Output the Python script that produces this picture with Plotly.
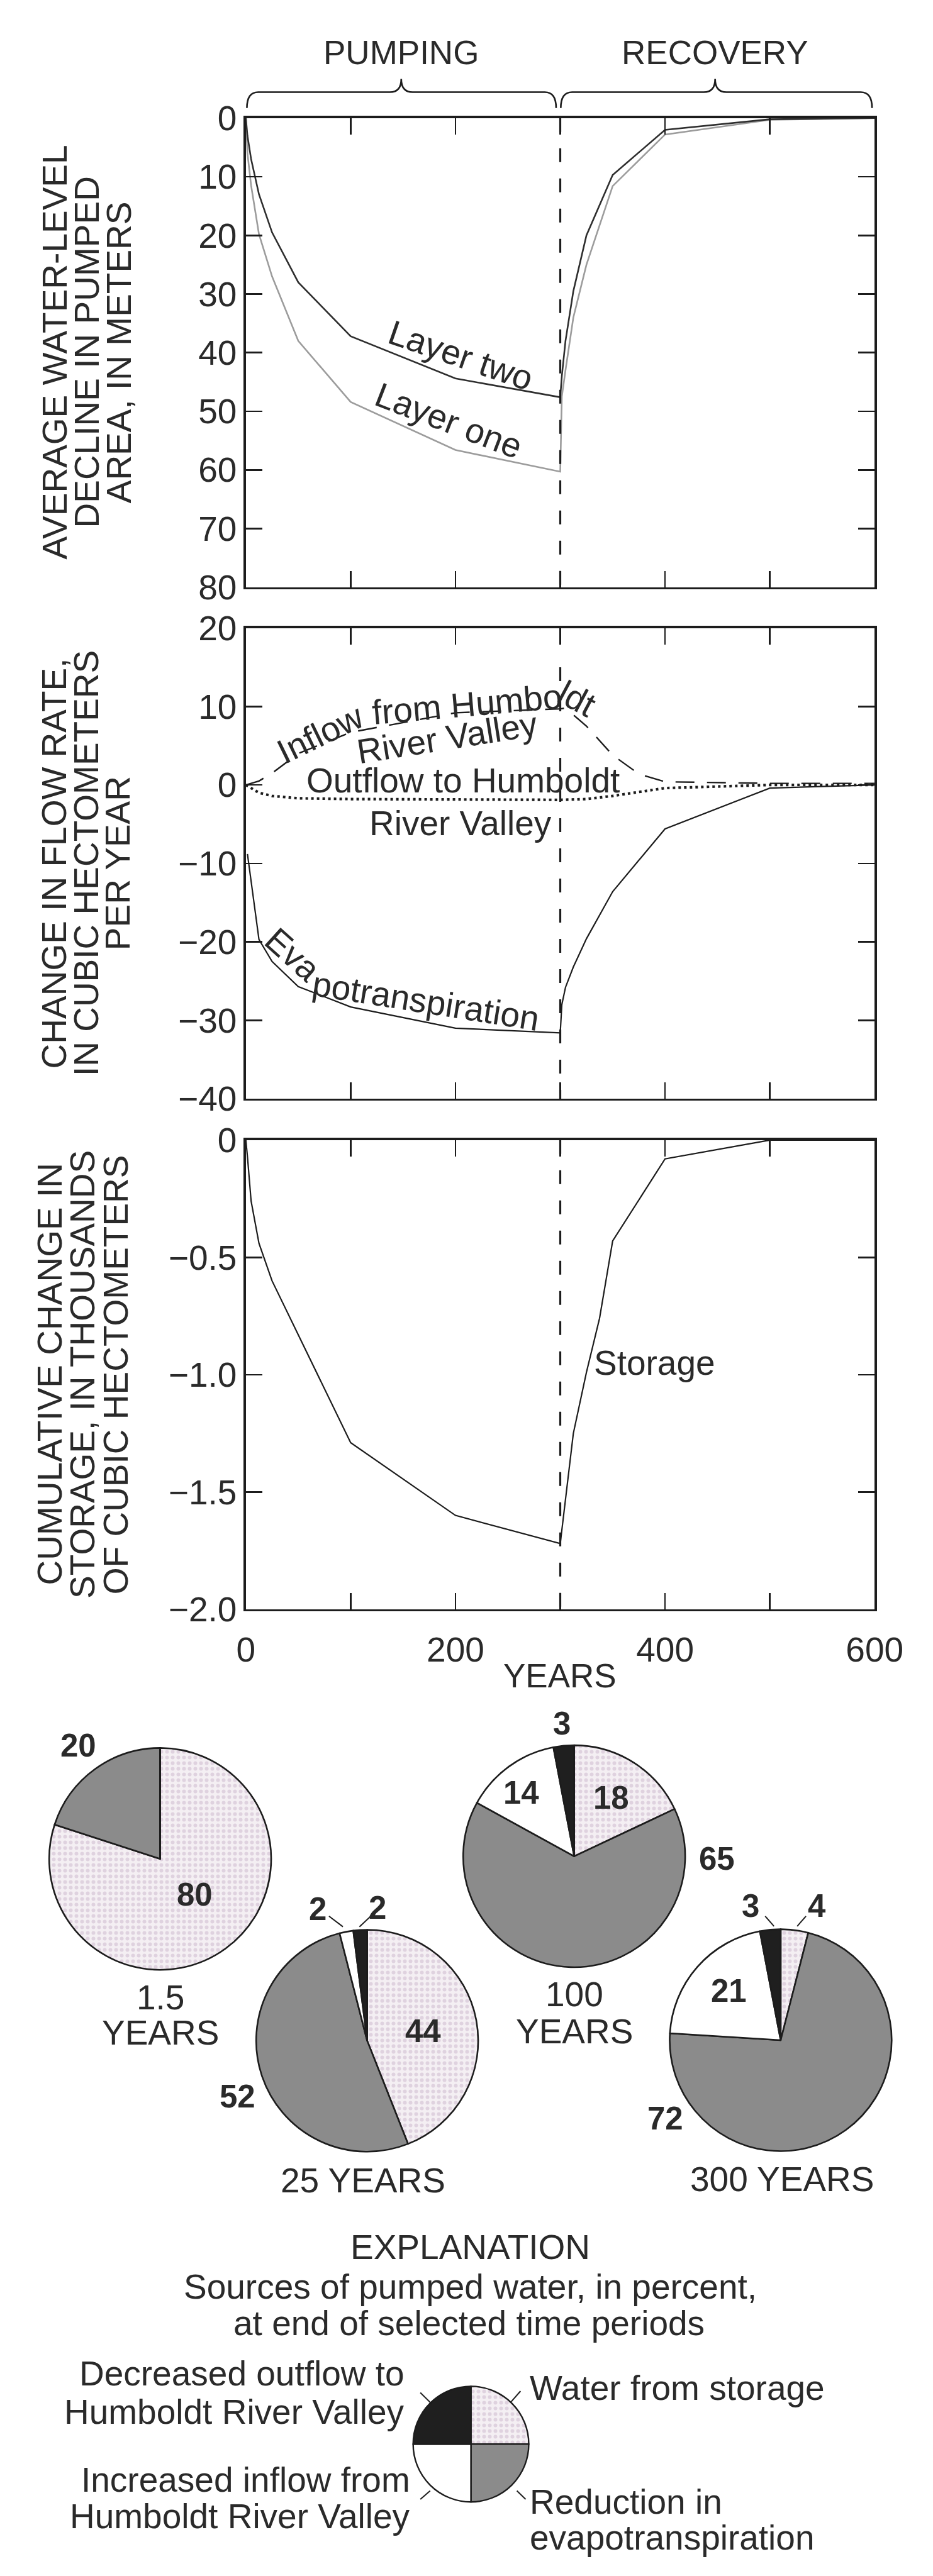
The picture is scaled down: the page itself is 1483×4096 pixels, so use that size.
import plotly.graph_objects as go

# ---------------- reference geometry helpers ----------------
W_REF, H_REF = 1733, 4786
W, H = 1483, 4096


def px(X):
    return X / W_REF


def py(Y):
    return 1 - Y / H_REF


# ---------------- data ----------------
PUMP_END = 300
X_TICKS = [0, 100, 200, 300, 400, 500, 600]
X_TICKTEXT = ["0", "", "200", "", "400", "", "600"]

# Panel 1: average water-level decline (m)
T_LAYER = [0, 1.5, 5, 12.5, 25, 50, 100, 200, 300, 301.5, 305, 312.5, 325, 350, 400, 500, 600]
LAYER_TWO = [0, 3, 7, 13, 19.5, 28, 37.2, 44.4, 47.6, 44, 38, 29.5, 20, 9.7, 2.0, 0.2, 0]
LAYER_ONE = [0, 6, 11.5, 19.8, 27, 38, 48.4, 56.6, 60.3, 47.5, 43, 34, 25, 11.6, 2.8, 0.3, 0]
Y1_TICKS = [0, 10, 20, 30, 40, 50, 60, 70, 80]

# Panel 2: change in flow rate (hm3/yr)
T_INFLOW = [0, 12.5, 25, 50, 100, 200, 300, 305, 325, 350, 375, 400, 500, 600]
INFLOW = [0, 0.5, 1.5, 4.0, 6.7, 9.2, 9.7, 9.8, 7.5, 3.8, 1.4, 0.4, 0.2, 0.2]
T_OUTFLOW = [0, 12.5, 25, 50, 100, 200, 300, 325, 350, 400, 500, 600]
OUTFLOW = [0, -1.0, -1.4, -1.7, -1.8, -1.85, -1.9, -1.8, -1.4, -0.4, 0, 0]
T_ET = [1.5, 12.5, 25, 50, 100, 200, 300, 301.5, 305, 312.5, 325, 350, 400, 500, 600]
ET = [-8.8, -19.7, -22.5, -25.7, -28.3, -31.0, -31.6, -28.0, -25.8, -23.2, -19.6, -13.6, -5.6, -0.4, 0]
Y2_TICKS = [20, 10, 0, -10, -20, -30, -40]

# Panel 3: cumulative change in storage (thousands of hm3)
T_STORAGE = [0, 1.5, 5, 12.5, 25, 100, 200, 300, 312.5, 325, 337.5, 350, 400, 500, 600]
STORAGE = [0, -0.07, -0.26, -0.44, -0.6, -1.29, -1.6, -1.72, -1.25, -0.99, -0.76, -0.43, -0.08, 0, 0]
Y3_TICKS = [0, -0.5, -1.0, -1.5, -2.0]
Y3_TICKTEXT = ["0", "\u22120.5", "\u22121.0", "\u22121.5", "\u22122.0"]

# Pie charts: sources of pumped water, percent
PIE_PERIODS = ["1.5", "25", "100", "300"]
STORAGE_PCT = [80, 44, 18, 4]
ET_PCT = [20, 52, 65, 72]
INFLOW_PCT = [0, 2, 14, 21]
OUTFLOW_PCT = [0, 2, 3, 3]
SOURCE_NAMES = ["Water from storage", "Reduction in evapotranspiration",
                "Increased inflow from Humboldt River Valley",
                "Decreased outflow to Humboldt River Valley"]
LEGEND_PCT = [25, 25, 25, 25]

# ---------------- styles ----------------
INK = "#1c1c1c"
TXT = "#2a2a2a"
LIGHT = "#9c9c9c"
GRAY = "#8b8b8b"
STIPPLE_BG = "#f4eff3"
STIPPLE_FG = "#c9b6cb"
FONT = "Liberation Sans, Arial, Helvetica, sans-serif"
FS = 55

fig = go.Figure()


def line_trace(x, y, ax, color, width, dash="solid"):
    fig.add_trace(go.Scatter(x=x, y=y, mode="lines", xaxis="x" + ax, yaxis="y" + ax,
                             line=dict(color=color, width=width, dash=dash),
                             hoverinfo="skip", showlegend=False))


line_trace(T_LAYER, LAYER_ONE, "", LIGHT, 2.6)
line_trace(T_LAYER, LAYER_TWO, "", "#2e2e2e", 2.6)
line_trace(T_INFLOW, INFLOW, "2", INK, 2.4, "30px,20px")
line_trace(T_OUTFLOW, OUTFLOW, "2", INK, 4.2, "4px,5px")
line_trace(T_ET, ET, "2", INK, 2.2)
line_trace(T_STORAGE, STORAGE, "3", INK, 2.2)

# ---------------- pies ----------------
PIE_R = 215
pie_pos = {"1.5": (292, 3470), "100": (1094, 3465), "25": (693, 3813), "300": (1494, 3812)}

slice_colors = [STIPPLE_BG, GRAY, "#ffffff", "#1f1f1f"]
slice_pattern = [".", "", "", ""]


def add_pie(values, cx, cy, r, lw):
    fig.add_trace(go.Pie(
        values=values, labels=SOURCE_NAMES, sort=False, direction="clockwise", rotation=0,
        textinfo="none", hoverinfo="skip", showlegend=False,
        domain=dict(x=[px(cx - r), px(cx + r)], y=[py(cy + r), py(cy - r)]),
        marker=dict(colors=slice_colors, line=dict(color=INK, width=lw),
                    pattern=dict(shape=slice_pattern, fgcolor=STIPPLE_FG, size=9,
                                 solidity=0.35, fillmode="overlay"))))


for i, p in enumerate(PIE_PERIODS):
    cx, cy = pie_pos[p]
    add_pie([STORAGE_PCT[i], ET_PCT[i], INFLOW_PCT[i], OUTFLOW_PCT[i]], cx, cy, PIE_R, 2.6)

add_pie(LEGEND_PCT, 894, 4574, 112, 2.4)

# ---------------- axes ----------------
XDOM = [px(458), px(1676)]
ax_common = dict(showline=True, mirror="ticks", linecolor=INK, linewidth=3.4,
                 ticks="inside", ticklen=26, tickwidth=2.6, tickcolor=INK,
                 showgrid=False, zeroline=False, fixedrange=True,
                 tickfont=dict(family=FONT, size=FS, color=TXT))

layout_axes = dict(
    xaxis=dict(ax_common, domain=XDOM, range=[0, 600], tickvals=X_TICKS, showticklabels=False, anchor="y"),
    xaxis2=dict(ax_common, domain=XDOM, range=[0, 600], tickvals=X_TICKS, showticklabels=False, anchor="y2"),
    xaxis3=dict(ax_common, domain=XDOM, range=[0, 600], tickvals=X_TICKS, ticktext=X_TICKTEXT,
                anchor="y3", ticklabelstandoff=14),
    yaxis=dict(ax_common, domain=[py(1071), py(186)], range=[80, 0], tickvals=Y1_TICKS, anchor="x",
               ticklabelstandoff=0),
    yaxis2=dict(ax_common, domain=[py(2036), py(1148)], range=[-40, 20], tickvals=Y2_TICKS, anchor="x2",
                ticklabelstandoff=0),
    yaxis3=dict(ax_common, domain=[py(2999), py(2114)], range=[-2.0, 0], tickvals=Y3_TICKS,
                ticktext=Y3_TICKTEXT, anchor="x3", ticklabelstandoff=0),
)

# ---------------- shapes ----------------
shapes = []
# end of pumping dashed line in each panel
for xr, yref, y0, y1 in [("x", "y", 0, 80), ("x2", "y2", 15, -40), ("x3", "y3", 0, -2.0)]:
    shapes.append(dict(type="line", xref=xr, yref=yref, x0=PUMP_END, x1=PUMP_END, y0=y0, y1=y1,
                       line=dict(color=INK, width=3.2, dash="22px,26px"), layer="above"))


def brace(x0, x1, tip, yh=137, yend=167, ytip=112, c=22):
    pts = (f"M {px(x0)},{py(yend)} Q {px(x0)},{py(yh)} {px(x0 + c)},{py(yh)} "
           f"L {px(tip - c)},{py(yh)} Q {px(tip)},{py(yh)} {px(tip)},{py(ytip)} "
           f"Q {px(tip)},{py(yh)} {px(tip + c)},{py(yh)} "
           f"L {px(x1 - c)},{py(yh)} Q {px(x1)},{py(yh)} {px(x1)},{py(yend)}")
    return dict(type="path", xref="paper", yref="paper", path=pts, line=dict(color=INK, width=2.6))


shapes.append(brace(460, 1059, 759))
shapes.append(brace(1068, 1671, 1367))

# leader lines (reference pixel positions)
LEADERS = [((619, 3578), (646, 3598)), ((700, 3578), (678, 3598)),
           ((1464, 3578), (1481, 3597)), ((1543, 3578), (1526, 3597)),
           ((796, 4477), (818, 4498)), ((990, 4474), (972, 4494)),
           ((815, 4662), (796, 4678)), ((983, 4662), (1000, 4678))]
for (a, b) in LEADERS:
    shapes.append(dict(type="line", xref="paper", yref="paper", x0=px(a[0]), y0=py(a[1]),
                       x1=px(b[0]), y1=py(b[1]), line=dict(color=INK, width=2)))

# ---------------- annotations ----------------
anns = []


def ann_px(text, X, Y, size=FS, angle=0, bold=False, xanchor="center"):
    if bold:
        text = "<b>" + text + "</b>"
    anns.append(dict(text=text, x=px(X), y=py(Y), xref="paper", yref="paper", showarrow=False,
                     xanchor=xanchor, yanchor="middle", textangle=angle,
                     font=dict(family=FONT, size=size, color=TXT)))


def ann_data(text, x, y, ax, size=FS, angle=0):
    anns.append(dict(text=text, x=x, y=y, xref="x" + ax, yref="y" + ax, showarrow=False,
                     xanchor="center", yanchor="middle", textangle=angle,
                     font=dict(family=FONT, size=size, color=TXT)))


# header
ann_px("PUMPING", 759, 62, size=53)
ann_px("RECOVERY", 1367, 62, size=53)

# axis titles (one annotation per line)
TITLE1 = ["AVERAGE WATER-LEVEL", "DECLINE IN PUMPED", "AREA, IN METERS"]
TITLE2 = ["CHANGE IN FLOW RATE,", "IN CUBIC HECTOMETERS", "PER YEAR"]
TITLE3 = ["CUMULATIVE CHANGE IN", "STORAGE, IN THOUSANDS", "OF CUBIC HECTOMETERS"]
for lines, xs, yc in [(TITLE1, [88, 150, 212], 628), (TITLE2, [86, 149, 210], 1592),
                      (TITLE3, [78, 142, 207], 2556)]:
    for t, X in zip(lines, xs):
        ann_px(t, X, yc, angle=-90)

ann_px("YEARS", 1066, 3125, size=53)

# curve labels
ann_data("Layer two", 205, 40.5, "", angle=19)
ann_data("Layer one", 194, 51.6, "", angle=21)
ann_data("Inflow", 71, 6.5, "2", angle=-26)
ann_data("from Humbo", 211, 10.3, "2", angle=-5)
ann_data("ldt", 316, 11.0, "2", angle=28)
ann_data("River Valley", 192, 6.0, "2", angle=-9)
ann_data("Outflow to Humboldt", 207, 0.6, "2")
ann_data("River Valley", 205, -4.9, "2")
ann_data("Eva", 45, -21.6, "2", angle=42)
ann_data("potranspiration", 172, -27.6, "2", angle=9)
ann_data("Storage", 390, -0.95, "3")

# pie values (bold)
PIE_LABEL_POS = {
    "1.5": [(359, 3537), (133, 3256), None, None],
    "25": [(801, 3795), (442, 3918), (597, 3565), (713, 3562)],
    "100": [(1166, 3355), (1370, 3470), (991, 3345), (1070, 3215)],
    "300": [(1564, 3559), (1271, 3960), (1394, 3719), (1436, 3559)],
}
for i, p in enumerate(PIE_PERIODS):
    vals = [STORAGE_PCT[i], ET_PCT[i], INFLOW_PCT[i], OUTFLOW_PCT[i]]
    for v, pos in zip(vals, PIE_LABEL_POS[p]):
        if pos is not None and v > 0:
            ann_px(str(v), pos[0], pos[1], size=51, bold=True)

# pie captions
ann_px("1.5", 293, 3731)
ann_px("YEARS", 293, 3798)
ann_px("100", 1094, 3725)
ann_px("YEARS", 1094, 3795)
ann_px("25 YEARS", 685, 4077)
ann_px("300 YEARS", 1497, 4074)

# explanation
ann_px("EXPLANATION", 893, 4202)
ann_px("Sources of pumped water, in percent,", 893, 4277)
ann_px("at end of selected time periods", 890, 4346)
ann_px("Decreased outflow to", 768, 4441, xanchor="right")
ann_px("Humboldt River Valley", 768, 4513, xanchor="right")
ann_px("Increased inflow from", 779, 4641, xanchor="right")
ann_px("Humboldt River Valley", 779, 4710, xanchor="right")
ann_px("Water from storage", 1006, 4468, xanchor="left")
ann_px("Reduction in", 1006, 4683, xanchor="left")
ann_px("evapotranspiration", 1006, 4751, xanchor="left")

fig.update_layout(
    width=W, height=H, autosize=False,
    margin=dict(l=0, r=0, t=0, b=0, pad=0),
    paper_bgcolor="white", plot_bgcolor="white",
    font=dict(family=FONT, size=FS, color=TXT),
    showlegend=False,
    shapes=shapes, annotations=anns,
    **layout_axes,
)

fig.write_html("out.html", config={"displayModeBar": False, "staticPlot": True},
               post_script="document.body.style.margin='0';")
